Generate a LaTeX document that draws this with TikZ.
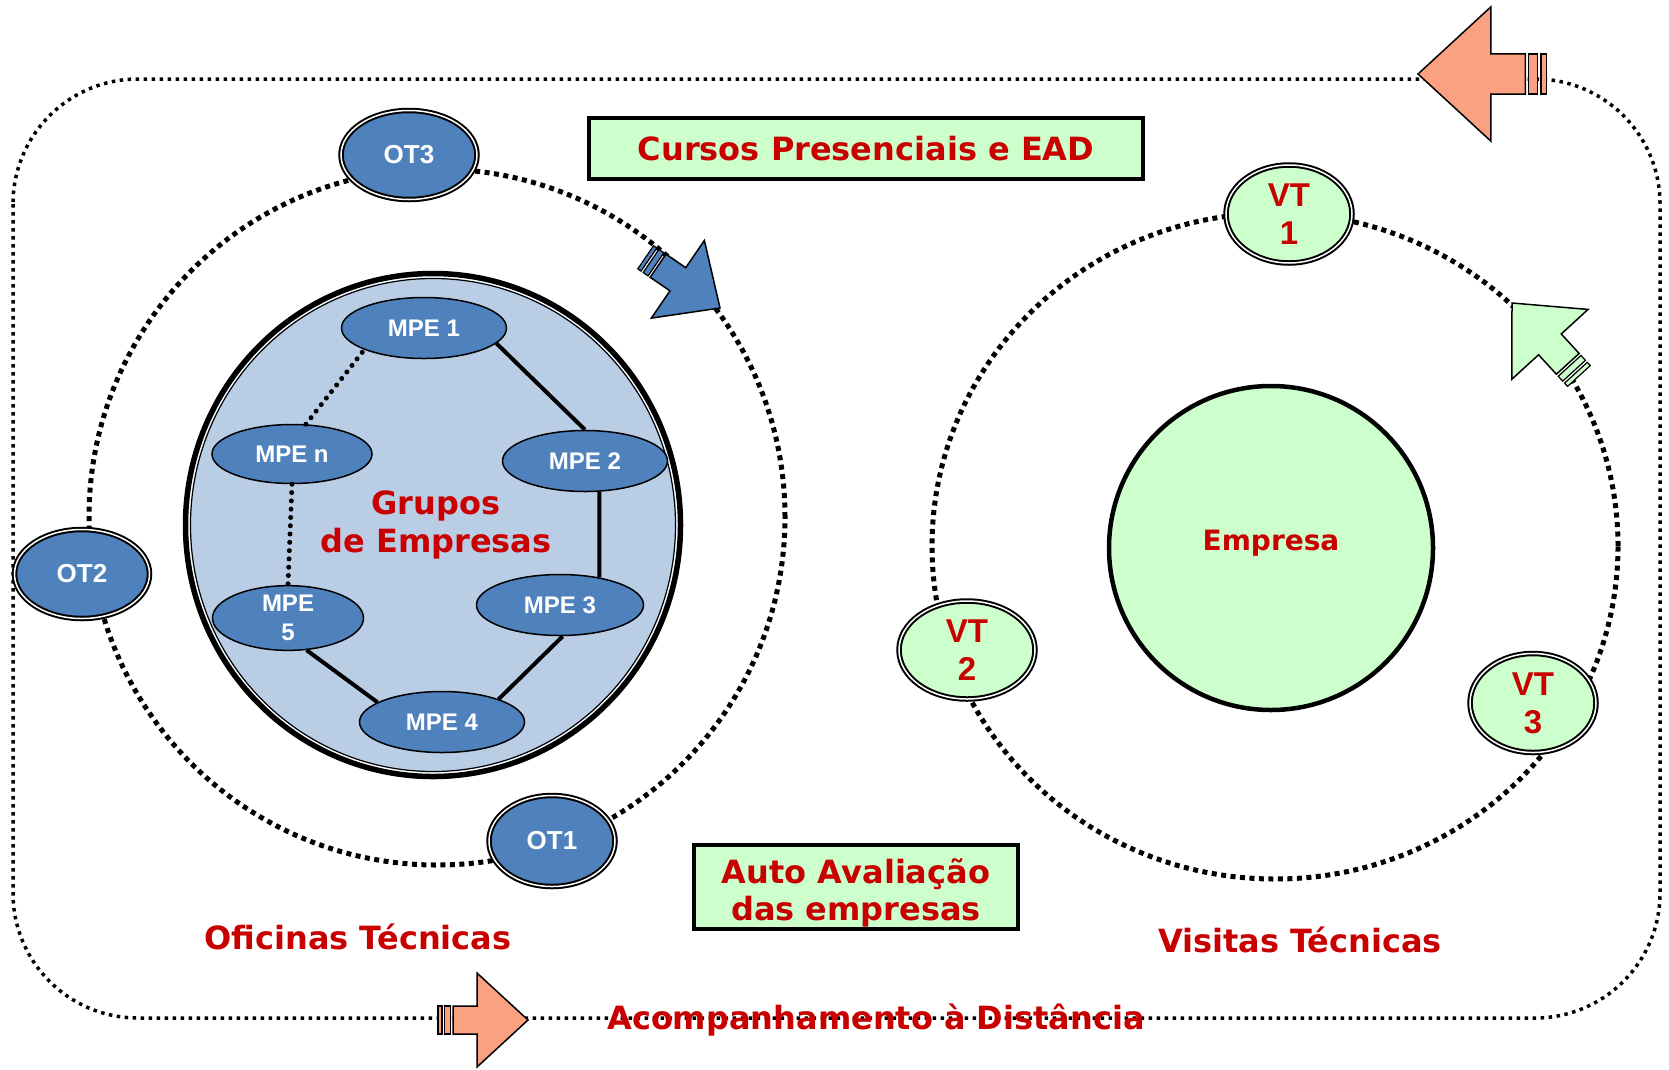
\documentclass[tikz,border=0pt]{standalone}
\usepackage{fontspec}
\setmainfont{DejaVu Sans}
\newfontfamily\arialb{Liberation Sans}
\usetikzlibrary{shapes.geometric}
\definecolor{blueN}{RGB}{79,129,189}
\definecolor{lightB}{RGB}{185,205,229}
\definecolor{greenF}{RGB}{204,255,204}
\definecolor{redT}{RGB}{200,0,0}
\definecolor{salmonC}{RGB}{249,161,129}
\tikzset{
 pics/blockarr/.style={code={
   \filldraw[fill=#1, draw=black, line width=1.5pt, line join=miter] (0,0) -- (-51,47) -- (-51,14) -- (-75,14) -- (-75,-14) -- (-51,-14) -- (-51,-47) -- cycle;
   \filldraw[fill=#1, draw=black, line width=1.2pt] (-77.5,-14) rectangle (-83.5,14);
   \filldraw[fill=#1, draw=black, line width=1.2pt] (-86,-14) rectangle (-90,14);
 }},
 dotbig/.style={line width=5pt, dash pattern=on 5pt off 4.5pt},
 dotouter/.style={line width=3.5pt, dash pattern=on 3.5pt off 4.5pt},
 dotround/.style={line width=5pt, line cap=round, dash pattern=on 0pt off 8.3pt},
 mpe/.style={ellipse, draw=black, line width=1.5pt, fill=blueN, text=white, inner sep=0pt, align=center, font=\arialb\bfseries\fontsize{24}{29}\selectfont},
 otnode/.style={ellipse, draw=black, line width=2pt, double=white, double distance=1.5pt, fill=blueN, text=white, inner sep=0pt, font=\arialb\bfseries\fontsize{26}{30}\selectfont},
 vtnode/.style={ellipse, draw=black, line width=2pt, double=white, double distance=1.5pt, fill=greenF, text=redT, inner sep=0pt, align=center, font=\arialb\bfseries\fontsize{33}{38}\selectfont},
 redlabel/.style={text=redT, font=\bfseries\fontsize{32}{38}\selectfont, inner sep=0pt, align=center},
 greenbox/.style={draw=black, line width=4pt, fill=greenF, inner sep=0pt},
 link/.style={line width=4pt},
}
\begin{document}
\begin{tikzpicture}[x=1pt,y=-1pt]
\useasboundingbox (0,0) rectangle (1669,1069);
% outer loop
\draw[dotouter, rounded corners=125pt] (13,79) rectangle (1660,1018);
% left and right dotted circles
\draw[dotbig] (437,517) circle [radius=348pt];
\draw[dotbig] (1275,546) ellipse [x radius=343pt, y radius=333pt];
% group of companies
\fill[lightB] (433,525) ellipse [x radius=248pt, y radius=252pt];
\draw[line width=1.2pt] (433,525) ellipse [x radius=242.5pt, y radius=246.5pt];
\draw[white, line width=1.6pt] (433,525) ellipse [x radius=244.3pt, y radius=248.3pt];
\draw[line width=5.5pt] (433,525) ellipse [x radius=247.5pt, y radius=251.5pt];
% MPE nodes
\node[mpe, minimum width=165pt, minimum height=61pt] (m1) at (424,328) {MPE 1};
\node[mpe, minimum width=165pt, minimum height=61pt] (m2) at (585,461) {MPE 2};
\node[mpe, minimum width=167pt, minimum height=61pt] (m3) at (560,605) {MPE 3};
\node[mpe, minimum width=165pt, minimum height=61pt] (m4) at (442,722) {MPE 4};
\node[mpe, minimum width=151pt, minimum height=60pt] (m5) at (288,618) {MPE\\5};
\node[mpe, minimum width=160pt, minimum height=59pt] (mn) at (292,454) {MPE n};
\draw[link] (m1.-12) -- (m2.north);
\draw[link] (m2.-65) -- (m3.35);
\draw[link] (m3.-85) -- (m4.22);
\draw[link] (m5.-60) -- (m4.163);
\draw[dotround] (mn.south) -- (m5.north);
\draw[dotround] (mn.65) -- (m1.-160);
\node[redlabel] (grupos) at (436,525) {Grupos\\de Empresas};
% OT nodes
\node[otnode, minimum width=136pt, minimum height=89pt] (ot3) at (409,155) {OT3};
\node[otnode, minimum width=135pt, minimum height=89pt] (ot2) at (82,574) {OT2};
\node[otnode, minimum width=126pt, minimum height=91pt] (ot1) at (552,841) {OT1};
% Empresa and VT nodes
\node[circle, draw=black, line width=4.5pt, fill=greenF, minimum size=324pt, inner sep=0pt, text=redT, font=\bfseries\fontsize{28}{32}\selectfont] (empresa) at (1271,548) {\raisebox{15pt}{Empresa}};
\node[vtnode, minimum width=126pt, minimum height=98pt] (vt1) at (1289,214) {VT\\1};
\node[vtnode, minimum width=136pt, minimum height=98pt] (vt2) at (967,650) {VT\\2};
\node[vtnode, minimum width=126pt, minimum height=99pt] (vt3) at (1533,703) {VT\\3};
% boxes
\node[greenbox, minimum width=554pt, minimum height=61pt, text=redT, font=\bfseries\fontsize{32}{38}\selectfont] (cursos) at (866,148.5) {Cursos Presenciais e EAD};
\node[greenbox, minimum width=324pt, minimum height=84pt] (autobox) at (856,887) {};
\node[redlabel, font=\bfseries\fontsize{32}{37}\selectfont] (autotxt) at (856,893) {Auto Avaliação\\das empresas};
% labels
\node[redlabel, anchor=base] (oficinas) at (358,949) {Oficinas Técnicas};
\node[redlabel, anchor=base] (visitas) at (1300,952) {Visitas Técnicas};
\node[redlabel, anchor=base] (acomp) at (876,1029) {Acompanhamento à Distância};
% block arrows
\pic[rotate=180, scale=1.43] (arrtop) at (1418,74) {blockarr=salmonC};
\pic (arrbot) at (528,1020) {blockarr=salmonC};
\pic[rotate=-34.3] (arrblue) at (720,308) {blockarr=blueN};
\pic[rotate=132.5, scale=1.1] (arrgreen) at (1512,303) {blockarr=greenF};
\end{tikzpicture}
\end{document}
